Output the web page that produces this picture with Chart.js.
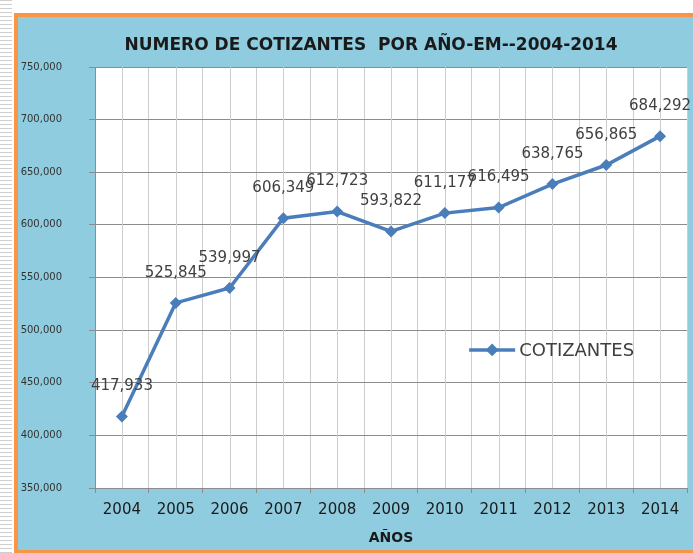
<!DOCTYPE html>
<html>
<head>
<meta charset="utf-8">
<script src="https://cdn.jsdelivr.net/npm/chart.js@4"></script>
<style>
  html, body { margin: 0; padding: 0; background: #fff; }
  body { width: 693px; height: 553px; position: relative; overflow: hidden; }
  /* regla punteada de la hoja */
  #ruler {
    position: absolute; left: 0; top: 0; width: 12px; height: 553px;
    background: repeating-linear-gradient(to bottom, #b9b9b9 0 1px, #fff 1px 4px);
    opacity: 0.7;
  }
  #frame {
    position: absolute; left: 14px; top: 13px; width: 700px; height: 533px;
    border-left: 4px solid #F79646; border-top: 4px solid #F79646; border-bottom: 3px solid #F79646;
    background: #8FCCDF;
  }
  #wrap { position: absolute; left: 18px; top: 17px; width: 675px; height: 533px; }
</style>
</head>
<body>
<div id="ruler"></div>
<div id="frame"></div>
<div id="wrap"><canvas id="grafico" width="675" height="533"></canvas></div>
<script>
// datos
const years = ['2004', '2005', '2006', '2007', '2008', '2009', '2010', '2011', '2012', '2013', '2014'];
const cotizantes = [417933, 525845, 539997, 606349, 612723, 593822, 611177, 616495, 638765, 656865, 684292];
const yTicks = [350000, 400000, 450000, 500000, 550000, 600000, 650000, 700000, 750000];
const chartTitle = 'NUMERO DE COTIZANTES  POR AÑO-EM--2004-2014';

const FONT = 'DejaVu Sans';
const LINE = '#4A7EBB';
const fmt = v => v.toLocaleString('en-US');

// fondo blanco del area de trazado
const plotBg = {
  id: 'plotBg',
  beforeDraw(chart) {
    const { ctx, chartArea: a } = chart;
    ctx.save();
    ctx.fillStyle = '#fff';
    ctx.fillRect(a.left, a.top, a.right - a.left, a.bottom - a.top);
    ctx.restore();
  }
};

// titulo (un poco a la derecha del centro, como en excel)
const titlePlugin = {
  id: 'titlePlugin',
  afterDraw(chart) {
    const { ctx } = chart;
    ctx.save();
    ctx.font = 'bold 17px "' + FONT + '"';
    ctx.fillStyle = '#1a1a1a';
    ctx.textAlign = 'center';
    ctx.textBaseline = 'middle';
    ctx.fillText(chartTitle, chart.width * 0.523, 29);
    ctx.restore();
  }
};

// lineas verticales en el centro de cada categoria
const midGrid = {
  id: 'midGrid',
  beforeDatasetsDraw(chart) {
    const { ctx, chartArea: a, scales: { x } } = chart;
    ctx.save();
    ctx.strokeStyle = '#cdcdcd';
    ctx.lineWidth = 1;
    years.forEach((_, i) => {
      const px = Math.round(x.getPixelForValue(i)) + 0.5;
      ctx.beginPath();
      ctx.moveTo(px, a.top);
      ctx.lineTo(px, a.bottom);
      ctx.stroke();
    });
    ctx.restore();
  }
};

// etiquetas de valor encima de cada punto
const valueLabels = {
  id: 'valueLabels',
  afterDatasetsDraw(chart) {
    const { ctx } = chart;
    const meta = chart.getDatasetMeta(0);
    ctx.save();
    ctx.font = '15px "' + FONT + '"';
    ctx.fillStyle = '#404040';
    ctx.textAlign = 'center';
    ctx.textBaseline = 'middle';
    meta.data.forEach((pt, i) => {
      ctx.fillText(fmt(cotizantes[i]), pt.x, pt.y - 30);
    });
    ctx.restore();
  }
};

// leyenda dentro del area de trazado
const innerLegend = {
  id: 'innerLegend',
  afterDraw(chart) {
    const { ctx, chartArea: a } = chart;
    const ds = chart.data.datasets[0];
    const x0 = a.left + (a.right - a.left) * 0.632;
    const y0 = a.top + (a.bottom - a.top) * 0.672;
    ctx.save();
    ctx.strokeStyle = ds.borderColor;
    ctx.lineWidth = ds.borderWidth;
    ctx.beginPath();
    ctx.moveTo(x0, y0);
    ctx.lineTo(x0 + 46, y0);
    ctx.stroke();
    ctx.fillStyle = ds.borderColor;
    ctx.translate(x0 + 23, y0);
    ctx.rotate(Math.PI / 4);
    ctx.fillRect(-4.5, -4.5, 9, 9);
    ctx.setTransform(1, 0, 0, 1, 0, 0);
    ctx.font = '18px "' + FONT + '"';
    ctx.fillStyle = '#404040';
    ctx.textAlign = 'left';
    ctx.textBaseline = 'middle';
    ctx.fillText(ds.label, x0 + 50, y0 + 1);
    ctx.restore();
  }
};

new Chart(document.getElementById('grafico'), {
  type: 'line',
  data: {
    labels: years,
    datasets: [{
      label: 'COTIZANTES',
      data: cotizantes,
      borderColor: LINE,
      backgroundColor: LINE,
      borderWidth: 3.5,
      pointStyle: 'rectRot',
      pointRadius: 6,
      pointBorderWidth: 0,
      tension: 0
    }]
  },
  options: {
    responsive: false,
    animation: false,
    layout: { padding: { left: 0, right: 5, top: 50, bottom: 0 } },
    plugins: {
      legend: { display: false },
      tooltip: { enabled: false },
      title: { display: false }
    },
    scales: {
      x: {
        offset: true,
        grid: { offset: true, color: '#cdcdcd', tickLength: 5, tickColor: '#8c8c8c' },
        border: { color: '#8c8c8c' },
        ticks: { color: '#1a1a1a', font: { family: FONT, size: 15 }, padding: 8, maxRotation: 0, autoSkip: false },
        title: {
          display: true, text: 'AÑOS', color: '#1a1a1a',
          font: { family: FONT, size: 14, weight: 'bold' },
          padding: { top: 0, bottom: 3 }
        },
        afterFit(scale) { scale.height = 62; }
      },
      y: {
        min: yTicks[0],
        max: yTicks[yTicks.length - 1],
        afterBuildTicks(scale) { scale.ticks = yTicks.map(v => ({ value: v })); },
        grid: { color: '#8c8c8c', tickLength: 6 },
        border: { color: '#8c8c8c' },
        ticks: { color: '#333', font: { family: FONT, size: 10 }, padding: 27, callback: v => fmt(v) },
        afterFit(scale) { scale.width = 77; }
      }
    }
  },
  plugins: [plotBg, midGrid, valueLabels, innerLegend, titlePlugin]
});
</script>
</body>
</html>
